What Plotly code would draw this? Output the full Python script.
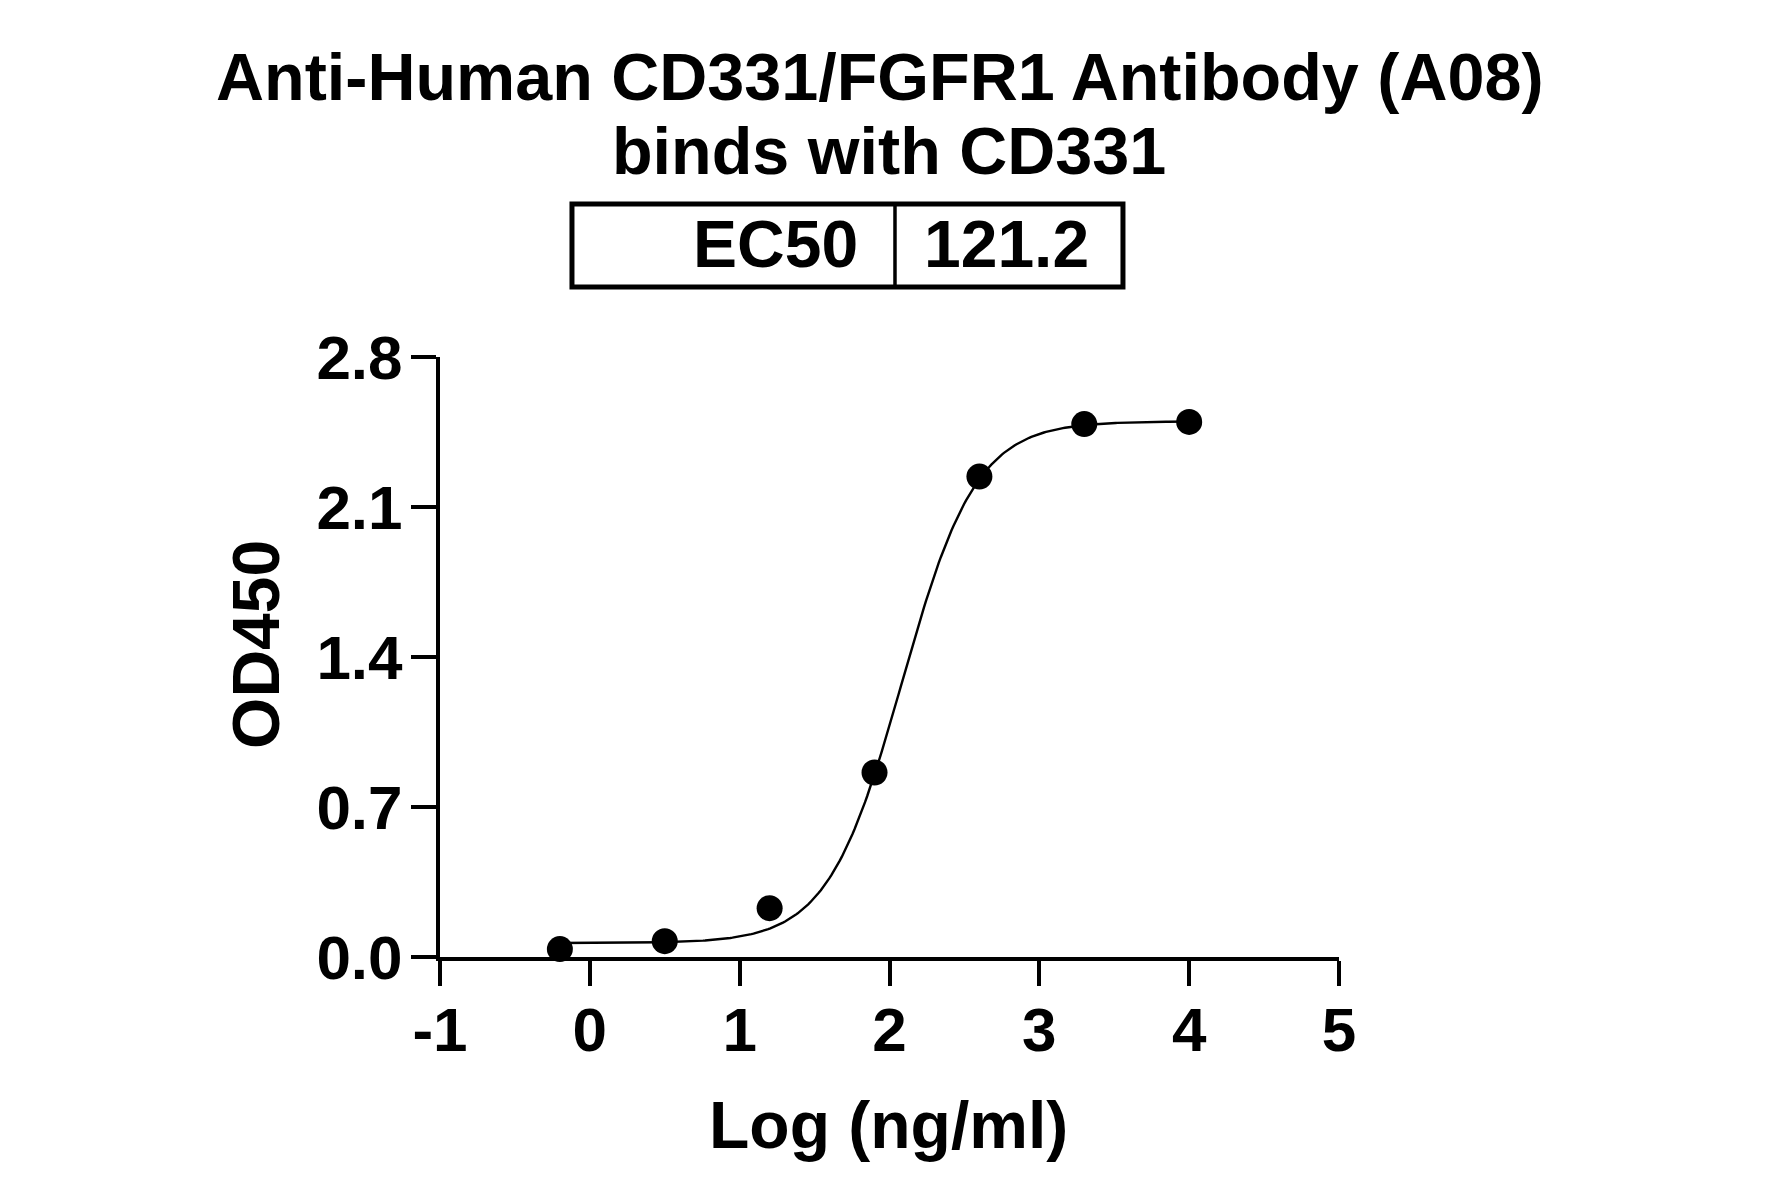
import numpy as np
import plotly.graph_objects as go

# Data
log_conc = [-0.2, 0.5, 1.2, 1.9, 2.6, 3.3, 4.0]
od450 = [0.037, 0.074, 0.228, 0.861, 2.242, 2.487, 2.497]

# 4PL fit parameters (EC50 from the chart table)
ec50 = 121.2
fit_bottom = 0.065
fit_top = 2.50
fit_hill = 1.75

title_lines = ["Anti-Human CD331/FGFR1 Antibody (A08)", "binds with CD331"]
x_ticks = [-1, 0, 1, 2, 3, 4, 5]
y_ticks = [0.0, 0.7, 1.4, 2.1, 2.8]

xc = np.linspace(min(log_conc), max(log_conc), 300)
yc = fit_bottom + (fit_top - fit_bottom) / (1 + 10 ** (fit_hill * (np.log10(ec50) - xc)))

FONT = "Liberation Sans, Arial, sans-serif"

fig = go.Figure()
fig.add_trace(go.Scatter(x=xc, y=yc, mode="lines",
                         line=dict(color="black", width=2.4),
                         showlegend=False, hoverinfo="skip", cliponaxis=False))
fig.add_trace(go.Scatter(x=log_conc, y=od450, mode="markers",
                         marker=dict(color="black", size=26),
                         showlegend=False, cliponaxis=False))

fig.update_layout(
    width=1765, height=1181,
    paper_bgcolor="white", plot_bgcolor="white",
    margin=dict(l=432, r=434, t=349, b=232),
    font=dict(family=FONT, color="black"),
    xaxis=dict(range=[-1, 5], tickvals=x_ticks, ticktext=[str(v) for v in x_ticks],
               showline=True, linecolor="black", linewidth=4,
               ticks="outside", ticklen=25, tickwidth=4, tickcolor="black",
               showgrid=False, zeroline=False, ticklabelstandoff=-9,
               tickfont=dict(family=FONT, size=62, color="black", weight="bold")),
    yaxis=dict(range=[0, 2.8], tickvals=y_ticks, ticktext=[f"{v:.1f}" for v in y_ticks],
               showline=True, linecolor="black", linewidth=4,
               ticks="outside", ticklen=25, tickwidth=4, tickcolor="black",
               showgrid=False, zeroline=False, ticklabelstandoff=-4,
               tickfont=dict(family=FONT, size=62, color="black", weight="bold")),
)

bold = dict(family=FONT, color="black", weight="bold")
annotations = [
    dict(text=title_lines[0], x=0.4894, y=1.4667, font=dict(size=66.5, **bold)),
    dict(text=title_lines[1], x=0.499, y=1.3433, font=dict(size=66.5, **bold)),
    dict(text="EC50", x=0.4672, y=1.1883, xanchor="right", font=dict(size=66, **bold)),
    dict(text=f"{ec50}", x=0.6296, y=1.1883, font=dict(size=66, **bold)),
    dict(text="Log (ng/ml)", x=0.4994, y=-0.28, font=dict(size=66, **bold)),
    dict(text="OD450", x=-0.2047, y=0.5217, textangle=-90, font=dict(size=66, **bold)),
]
for a in annotations:
    a.setdefault("xanchor", "center")
    a.setdefault("yanchor", "middle")
    fig.add_annotation(xref="paper", yref="paper", showarrow=False, **a)

# EC50 table box
fig.add_shape(type="rect", xref="paper", yref="paper",
              x0=0.1468, x1=0.7597, y0=1.1167, y1=1.255,
              line=dict(color="black", width=5))
fig.add_shape(type="line", xref="paper", yref="paper",
              x0=0.5061, x1=0.5061, y0=1.1167, y1=1.255,
              line=dict(color="black", width=3.5))

fig.write_html("out.html")
